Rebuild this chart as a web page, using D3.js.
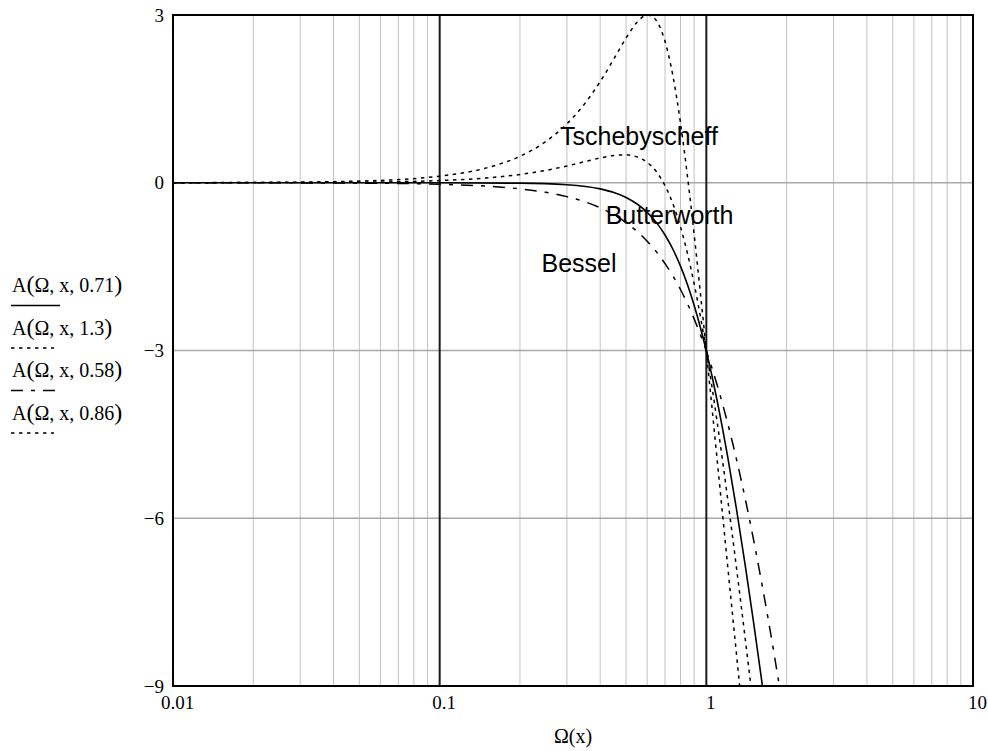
<!DOCTYPE html>
<html>
<head>
<meta charset="utf-8">
<script src="https://cdn.jsdelivr.net/npm/d3@7"></script>
<style>
  body { margin: 0; background: #fff; }
  svg { display: block; }
</style>
</head>
<body>
<svg id="chart"></svg>
<script>

// Butterworth, x = 0.71
var omegaBut = [0.01, 0.1, 0.2, 0.3, 0.4, 0.45, 0.5, 0.55, 0.6, 0.65, 0.7, 0.75, 0.8, 0.85, 0.9, 0.95, 1.0, 1.05, 1.1, 1.15, 1.2, 1.3, 1.4, 1.5, 1.6, 1.7];
var dbBut    = [0, 0, -0.007, -0.035, -0.110, -0.175, -0.263, -0.380, -0.529, -0.713, -0.934, -1.194, -1.491, -1.824, -2.191, -2.588, -3.010, -3.455, -3.917, -4.392, -4.876, -5.862, -6.850, -7.827, -8.782, -9.709];

// Tschebyscheff 3 dB, x = 1.3
var omegaT3 = [0.01, 0.02, 0.05, 0.1, 0.15, 0.2, 0.25, 0.3, 0.35, 0.4, 0.45, 0.5, 0.55, 0.6, 0.625, 0.65, 0.7, 0.75, 0.8, 0.85, 0.9, 0.95, 1.0, 1.05, 1.1, 1.15, 1.2, 1.25, 1.3, 1.35];
var dbT3    = [0.001, 0.005, 0.030, 0.118, 0.266, 0.473, 0.736, 1.053, 1.415, 1.810, 2.214, 2.587, 2.872, 2.999, 2.980, 2.897, 2.529, 1.902, 1.072, 0.109, -0.922, -1.971, -3.010, -4.020, -4.993, -5.924, -6.814, -7.663, -8.473, -9.247];

// Bessel, x = 0.58
var omegaBes = [0.01, 0.02, 0.05, 0.1, 0.15, 0.2, 0.25, 0.3, 0.35, 0.4, 0.45, 0.5, 0.55, 0.6, 0.65, 0.7, 0.75, 0.8, 0.85, 0.9, 0.95, 1.0, 1.1, 1.2, 1.3, 1.4, 1.5, 1.6, 1.7, 1.8, 1.9];
var dbBes    = [-0.0003, -0.001, -0.007, -0.027, -0.061, -0.109, -0.171, -0.248, -0.340, -0.448, -0.572, -0.713, -0.871, -1.045, -1.236, -1.445, -1.669, -1.909, -2.164, -2.434, -2.716, -3.010, -3.631, -4.285, -4.963, -5.657, -6.359, -7.063, -7.764, -8.459, -9.143];

// Tschebyscheff 0.5 dB, x = 0.86
var omegaT05 = [0.01, 0.05, 0.1, 0.15, 0.2, 0.25, 0.3, 0.35, 0.4, 0.45, 0.5, 0.55, 0.6, 0.65, 0.7, 0.75, 0.8, 0.85, 0.9, 0.95, 1.0, 1.05, 1.1, 1.15, 1.2, 1.25, 1.3, 1.35, 1.4, 1.45, 1.5];
var dbT05    = [0.0004, 0.010, 0.039, 0.086, 0.148, 0.221, 0.299, 0.377, 0.443, 0.488, 0.499, 0.462, 0.365, 0.196, -0.053, -0.382, -0.790, -1.268, -1.806, -2.391, -3.010, -3.652, -4.307, -4.966, -5.625, -6.276, -6.919, -7.550, -8.167, -8.770, -9.359];

var legendArgs = ["0.71", "1.3", "0.58", "0.86"];
var xTicks = [0.01, 0.1, 1, 10];
var yTicks = [3, 0, -3, -6, -9];

var labelNames = ["Tschebyscheff", "Butterworth", "Bessel"];
var labelOmega = [0.559, 0.728, 0.333];
var labelDb    = [0.675, -0.743, -1.60];

var margin = {top: 15, right: 15, bottom: 65, left: 173};
var width = 800;
var height = 671;

var root = d3.select("#chart")
    .attr("width", 988)
    .attr("height", 751);

var svg = root.append("g")
    .attr("transform", "translate(" + margin.left + "," + margin.top + ")");

var x = d3.scaleLog()
    .domain([0.01, 10])
    .range([0, width]);

var y = d3.scaleLinear()
    .domain([-9, 3])
    .range([height, 0]);

// minor grid
var minor = [];
[0.01, 0.1, 1].forEach(function(d) {
  for (var k = 2; k <= 9; k++) minor.push(d * k);
});

svg.append("g")
  .selectAll("line")
  .data(minor)
  .enter().append("line")
    .attr("x1", function(d) { return x(d); })
    .attr("x2", function(d) { return x(d); })
    .attr("y1", 0)
    .attr("y2", height)
    .style("stroke", "#c2c2c2")
    .style("stroke-width", 1);

svg.append("g")
  .selectAll("line")
  .data([0, -3, -6])
  .enter().append("line")
    .attr("x1", 0)
    .attr("x2", width)
    .attr("y1", function(d) { return y(d); })
    .attr("y2", function(d) { return y(d); })
    .style("stroke", "#a8a8a8")
    .style("stroke-width", 1.3);

svg.append("g")
  .selectAll("line")
  .data([0.1, 1])
  .enter().append("line")
    .attr("x1", function(d) { return x(d); })
    .attr("x2", function(d) { return x(d); })
    .attr("y1", 0)
    .attr("y2", height)
    .style("stroke", "#1a1a1a")
    .style("stroke-width", 2);

// frame
svg.append("rect")
    .attr("width", width)
    .attr("height", height)
    .style("fill", "none")
    .style("stroke", "#000")
    .style("stroke-width", 2);

// axes
var serif = "'Liberation Serif', 'Times New Roman', serif";

var gx = svg.append("g")
    .attr("transform", "translate(0," + height + ")")
    .call(d3.axisBottom(x).tickValues(xTicks).tickSize(0).tickPadding(10)
      .tickFormat(function(d) { return String(d); }));
gx.select(".domain").remove();
gx.selectAll("text")
    .attr("dx", 4)
    .style("font-family", serif)
    .style("font-size", "19px")
    .style("fill", "#000");

var gy = svg.append("g")
    .call(d3.axisLeft(y).tickValues(yTicks).tickSize(0).tickPadding(9));
gy.select(".domain").remove();
gy.selectAll("text")
    .style("font-family", serif)
    .style("font-size", "19px")
    .style("fill", "#000");

// curves
svg.append("clipPath")
    .attr("id", "plotclip")
  .append("rect")
    .attr("width", width)
    .attr("height", height);

var line = d3.line()
    .x(function(d) { return x(d[0]); })
    .y(function(d) { return y(d[1]); })
    .curve(d3.curveMonotoneX);

var series = [
  {om: omegaBut, db: dbBut, dash: null, w: 1.6},
  {om: omegaT3, db: dbT3, dash: "3.5,4.5", w: 1.5},
  {om: omegaBes, db: dbBes, dash: "12,8,4,8", w: 1.5},
  {om: omegaT05, db: dbT05, dash: "3.5,4.5", w: 1.5}
];

var curves = svg.append("g").attr("clip-path", "url(#plotclip)");
series.forEach(function(s) {
  curves.append("path")
      .datum(d3.zip(s.om, s.db))
      .attr("d", line)
      .style("fill", "none")
      .style("stroke", "#000")
      .style("stroke-width", s.w)
      .style("stroke-dasharray", s.dash);
});

// labels inside plot
svg.append("g")
  .selectAll("text")
  .data(labelNames)
  .enter().append("text")
    .attr("x", function(d, i) { return x(labelOmega[i]); })
    .attr("y", function(d, i) { return y(labelDb[i]); })
    .attr("text-anchor", "middle")
    .style("font-family", "'Liberation Sans', Arial, sans-serif")
    .style("font-size", "25px")
    .style("fill", "#000")
    .text(function(d) { return d; });

// x axis title
root.append("text")
    .attr("x", margin.left + width / 2)
    .attr("y", 743)
    .attr("text-anchor", "middle")
    .style("font-family", serif)
    .style("font-size", "20px")
    .text("Ω(x)");

// legend at left
var leg = root.append("g");
legendArgs.forEach(function(a, i) {
  var by = 292 + i * 42.5;
  var t = leg.append("text")
      .attr("x", 12)
      .attr("y", by)
      .style("font-family", serif)
      .style("font-size", "20px");
  t.append("tspan").text("A");
  t.append("tspan").style("font-size", "24px").text("(");
  t.append("tspan").text("Ω, x, " + a);
  t.append("tspan").style("font-size", "24px").text(")");
  leg.append("line")
      .attr("x1", 11)
      .attr("x2", (i === 0 || i === 2) ? 60 : 54)
      .attr("y1", by + 13.5)
      .attr("y2", by + 13.5)
      .style("stroke", "#000")
      .style("stroke-width", 1.5)
      .style("stroke-dasharray", series[i].dash);
});

</script>
</body>
</html>
